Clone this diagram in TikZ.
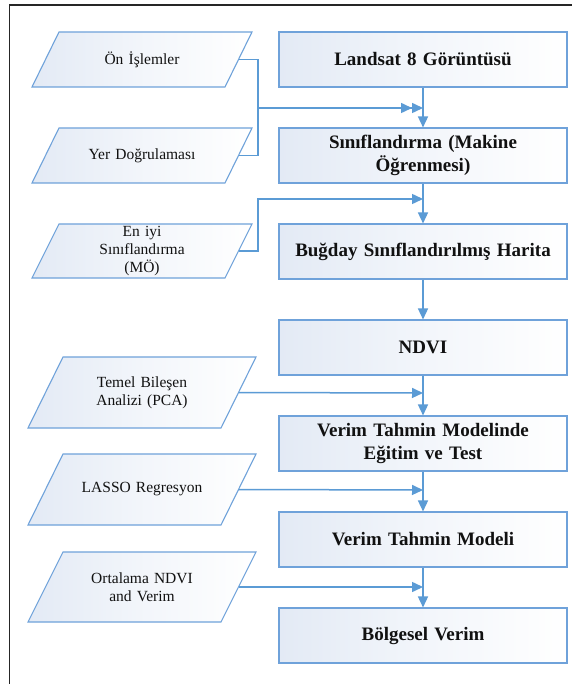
\documentclass[tikz,border=0pt]{standalone}
\usepackage{fontspec}
\setmainfont{Liberation Serif}
\usetikzlibrary{arrows.meta}
\definecolor{edge}{HTML}{6FA2DA}
\definecolor{arrowc}{HTML}{5B9BD5}
\definecolor{fillc}{HTML}{E3EAF5}
\definecolor{txt}{HTML}{111111}
\tikzset{
  stepbox/.style={draw=edge, line width=1.1pt, minimum width=288pt, minimum height=55pt,
    text width=284pt, align=center, inner sep=0pt, left color=fillc, right color=white,
    middle color=white!55!fillc, text=txt, font=\fontsize{19}{23}\selectfont\bfseries},
  paratext/.style={draw=none, inner sep=0pt, align=center, text width=150pt, text=txt,
    font=\fontsize{15.5}{18}\selectfont},
  parashape/.style={draw=edge, line width=1.1pt, left color=fillc, right color=white,
    middle color=white!55!fillc},
  flow/.style={draw=arrowc, line width=1.5pt, -{Triangle[length=11pt,width=10pt]}},
}
\newcommand\myparal[7]{%
  \path[parashape] ({#2-#4/2+#6},{#3-#5/2}) -- ({#2+#4/2+#6},{#3-#5/2})
     -- ({#2+#4/2-#6},{#3+#5/2}) -- ({#2-#4/2-#6},{#3+#5/2}) -- cycle;
  \node[paratext, minimum width=#4pt, minimum height=#5pt] (#1) at (#2,#3) {#7};
}
\begin{document}
\begin{tikzpicture}[x=1pt,y=-1pt]
\useasboundingbox (0,0) rectangle (572,684);
\fill[white] (0,0) rectangle (572,684);
\draw[line width=1.6pt, black!85] (9.5,684) -- (9.5,5) -- (572,5);

% main boxes
\node[stepbox] (b1) at (423,59.5) {Landsat 8 Görüntüsü};
\node[stepbox] (b2) at (423,155.5) {Sınıflandırma (Makine\\Öğrenmesi)};
\node[stepbox] (b3) at (423,251.5) {Buğday Sınıflandırılmış Harita};
\node[stepbox] (b4) at (423,347.5) {NDVI};
\node[stepbox] (b5) at (423,443.5) {Verim Tahmin Modelinde\\Eğitim ve Test};
\node[stepbox] (b6) at (423,539.5) {Verim Tahmin Modeli};
\node[stepbox] (b7) at (423,635.5) {Bölgesel Verim};

% input parallelograms
\myparal{p1}{142}{59.5}{193}{55}{13.5}{Ön İşlemler}
\myparal{p2}{142}{155.5}{193}{55}{13.5}{Yer Doğrulaması}
\myparal{p3}{142}{251}{193}{54}{13.5}{En iyi\\Sınıflandırma\\(MÖ)}
\myparal{p4}{142}{392.5}{193}{71}{17.5}{Temel Bileşen\\Analizi (PCA)}
\myparal{p5}{142}{489.5}{193}{71}{17.5}{LASSO Regresyon}
\myparal{p6}{142}{587}{193}{70}{17.5}{Ortalama NDVI\\and Verim}

% junction coordinates
\coordinate (j1a) at (412,108);
\coordinate (j1b) at (423,108);
\coordinate (j2) at (423,199);
\coordinate (j4) at (423,393);
\coordinate (j5) at (423,490);
\coordinate (j6) at (423,587);

% vertical flow
\draw[flow] (b1) -- (b2);
\draw[flow] (b2) -- (b3);
\draw[flow] (b3) -- (b4);
\draw[flow] (b4) -- (b5);
\draw[flow] (b5) -- (b6);
\draw[flow] (b6) -- (b7);

% side inputs
\draw[flow] (p1.east) -- ++(19.5,0) |- (j1a);
\draw[flow] (p2.east) -- ++(19.5,0) |- (j1b);
\draw[flow] (p3.east) -- ++(19.5,0) |- (j2);
\draw[flow] (p4.east) -- (j4);
\draw[flow] (p5.east) -- (j5);
\draw[flow] (p6.east) -- (j6);
\end{tikzpicture}
\end{document}
